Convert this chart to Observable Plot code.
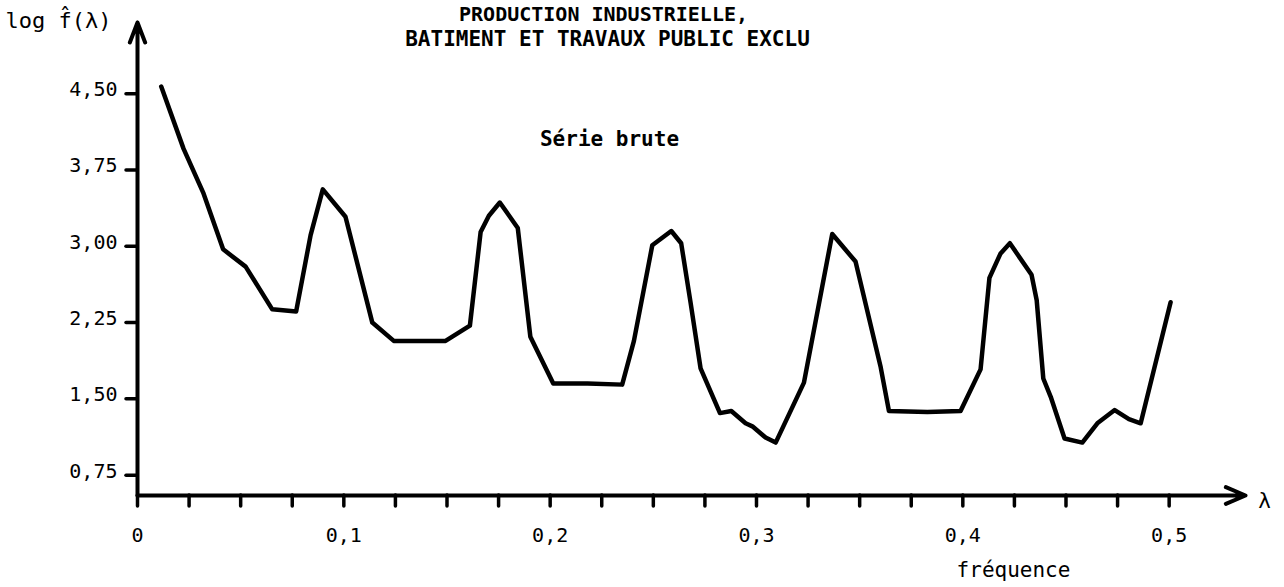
<!DOCTYPE html>
<html>
<head>
<meta charset="utf-8">
<script src="https://cdn.jsdelivr.net/npm/d3@7"></script>
<script src="https://cdn.jsdelivr.net/npm/@observablehq/plot@0.6"></script>
<style>
  html, body { margin: 0; padding: 0; background: #fff; }
  #chart svg { display: block; }
</style>
</head>
<body>
<div id="chart"></div>
<script>
// Log-spectrum of the raw industrial production series (excluding construction)
const frequence = [
  0.0115, 0.0223, 0.0320, 0.0415, 0.0524, 0.0653, 0.0769, 0.0839, 0.0898, 0.1008,
  0.1138, 0.1242, 0.1372, 0.1493, 0.1611, 0.1663, 0.1703, 0.1756, 0.1843, 0.1904,
  0.2015, 0.2181, 0.2349, 0.2406, 0.2495, 0.2587, 0.2635, 0.2681, 0.2729, 0.2823,
  0.2878, 0.2947, 0.2980, 0.3044, 0.3093, 0.3230, 0.3367, 0.3480, 0.3602, 0.3642,
  0.3828, 0.3989, 0.4086, 0.4129, 0.4183, 0.4228, 0.4333, 0.4358, 0.4390, 0.4426,
  0.4493, 0.4579, 0.4652, 0.4736, 0.4805, 0.4862, 0.5007
];
const logSpectre = [
  4.57, 3.96, 3.52, 2.97, 2.80, 2.38, 2.36, 3.11, 3.56, 3.29,
  2.25, 2.07, 2.07, 2.07, 2.22, 3.14, 3.30, 3.43, 3.18, 2.11,
  1.65, 1.65, 1.64, 2.07, 3.01, 3.15, 3.03, 2.44, 1.80, 1.36,
  1.38, 1.26, 1.23, 1.12, 1.07, 1.66, 3.12, 2.85, 1.81, 1.38,
  1.37, 1.38, 1.79, 2.69, 2.93, 3.03, 2.72, 2.47, 1.70, 1.52,
  1.11, 1.07, 1.26, 1.39, 1.30, 1.26, 2.45
];

// Axis ticks and labels
const yTicks = [0.75, 1.50, 2.25, 3.00, 3.75, 4.50];
const xLabelTicks = [0, 0.1, 0.2, 0.3, 0.4, 0.5];
const xMinorTicks = [
  0, 0.025, 0.05, 0.075, 0.1, 0.125, 0.15, 0.175, 0.2, 0.225, 0.25,
  0.275, 0.3, 0.325, 0.35, 0.375, 0.4, 0.425, 0.45, 0.475, 0.5
];
const X_DOMAIN = [0, 0.537];
const Y_DOMAIN = [0.55, 5.2];

const titleLines = ["PRODUCTION INDUSTRIELLE,", "BATIMENT ET TRAVAUX PUBLIC EXCLU"];
const seriesLabel = "Série brute";
const yAxisLabel = "log f\u0302(λ)";
const xAxisLabel = "fréquence";
const xAxisSymbol = "λ";

const rows = frequence.map((f, i) => ({f, v: logSpectre[i]}));
const fmtY = v => v.toFixed(2).replace(".", ",");
const fmtX = v => (v === 0 ? "0" : v.toFixed(1).replace(".", ","));

const FONT = "'DejaVu Sans Mono', monospace";
const INK = "#000";

// annotation text positioned from the frame's top-left corner
const label = (text, dx, dy, extra = {}) =>
  Plot.text([text], {
    frameAnchor: "top-left", lineAnchor: "middle", textAnchor: "middle",
    dx, dy, fontSize: 21, fill: INK, ...extra
  });

const chart = Plot.plot({
  width: 1284,
  height: 587,
  marginLeft: 137,
  marginRight: 39,
  marginTop: 22,
  marginBottom: 92,
  x: {domain: X_DOMAIN},
  y: {domain: Y_DOMAIN},
  style: {fontFamily: FONT, fontSize: "20px", color: INK, background: "#fff"},
  marks: [
    // axis lines with arrowheads
    Plot.arrow([{x1: 0, y1: Y_DOMAIN[0], x2: 0, y2: Y_DOMAIN[1]}], {
      x1: "x1", y1: "y1", x2: "x2", y2: "y2",
      stroke: INK, strokeWidth: 4, headLength: 8, headAngle: 42,
      strokeLinecap: "round", strokeLinejoin: "round"
    }),
    Plot.arrow([{x1: 0, y1: Y_DOMAIN[0], x2: X_DOMAIN[1], y2: Y_DOMAIN[0]}], {
      x1: "x1", y1: "y1", x2: "x2", y2: "y2",
      stroke: INK, strokeWidth: 4, headLength: 8, headAngle: 46,
      strokeLinecap: "round", strokeLinejoin: "round"
    }),
    // y ticks and labels
    Plot.axisY({ticks: yTicks, tickSize: 11, fill: "none", stroke: INK, strokeWidth: 3.5, strokeLinecap: "round", label: null}),
    Plot.axisY({ticks: yTicks, tickSize: 0, tickPadding: 20, tickFormat: fmtY, fontSize: 20, dy: -4, label: null}),
    // x ticks and labels
    Plot.axisX({ticks: xMinorTicks, tickSize: 11, fill: "none", stroke: INK, strokeWidth: 3.5, strokeLinecap: "round", label: null}),
    Plot.axisX({ticks: xLabelTicks, tickSize: 0, tickPadding: 32, tickFormat: fmtX, fontSize: 20, label: null}),
    // the spectrum
    Plot.line(rows, {
      x: "f", y: "v", stroke: INK, strokeWidth: 4.5,
      strokeLinejoin: "round", strokeLinecap: "round"
    }),
    // titles and annotations
    label(titleLines[0], 466, -8, {fontWeight: "bold", fontSize: 20}),
    label(titleLines[1], 470, 17, {fontWeight: "bold"}),
    label(seriesLabel, 472, 117, {fontWeight: "bold"}),
    label(yAxisLabel, -132, -2, {textAnchor: "start", fontSize: 22}),
    label(xAxisLabel, 876, 548),
    label(xAxisSymbol, 1127, 479)
  ]
});

document.getElementById("chart").appendChild(chart);
</script>
</body>
</html>
